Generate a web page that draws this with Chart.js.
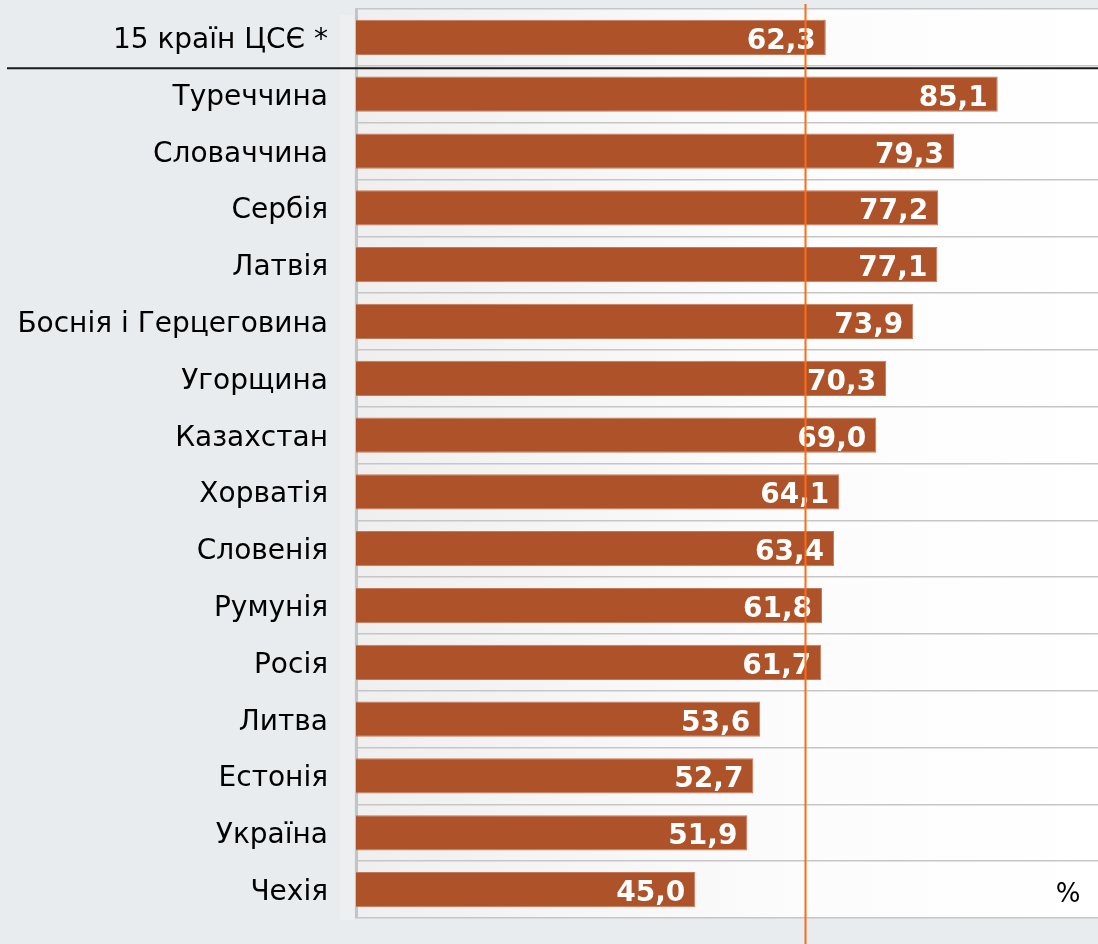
<!DOCTYPE html>
<html><head><meta charset="utf-8">
<script src="https://cdn.jsdelivr.net/npm/chart.js@4"></script>
<style>html,body{margin:0;padding:0;background:#e9ecee;overflow:hidden;} canvas{display:block;}</style>
</head><body>
<canvas id="c" width="1098" height="944"></canvas>
<script>
const categories = ['15 країн ЦСЄ *','Туреччина','Словаччина','Сербія','Латвія','Боснія і Герцеговина','Угорщина','Казахстан','Хорватія','Словенія','Румунія','Росія','Литва','Естонія','Україна','Чехія'];
const values = [62.3,85.1,79.3,77.2,77.1,73.9,70.3,69.0,64.1,63.4,61.8,61.7,53.6,52.7,51.9,45.0];
const referenceValue = 59.6;
const unitLabel = '%';
const xMin = 0, xMax = 98.4;

function fmt(v){ return v.toFixed(1).replace('.', ','); }
const LABEL_FONT = '"DejaVu Sans", sans-serif';

const decor = {
  id: 'decor',
  beforeDraw(chart) {
    const {ctx, chartArea: a} = chart;
    ctx.save();
    ctx.fillStyle = '#e9ecee';
    ctx.fillRect(0, 0, chart.width, chart.height);
    ctx.fillStyle = '#edeff0';
    ctx.fillRect(a.left - 16, a.top + 6, 14, a.bottom - a.top - 4);
    const g = ctx.createLinearGradient(a.left, 0, a.right, 0);
    g.addColorStop(0, '#efefef');
    g.addColorStop(0.6, '#fcfcfc');
    g.addColorStop(1, '#ffffff');
    ctx.fillStyle = g;
    ctx.fillRect(a.left, a.top, a.right - a.left, a.bottom - a.top);
    ctx.restore();
  },
  afterDatasetsDraw(chart) {
    const {ctx, chartArea: a} = chart;
    const xs = chart.scales.x, ys = chart.scales.y;
    const meta = chart.getDatasetMeta(0);
    ctx.save();
    // category labels
    ctx.font = '28px ' + LABEL_FONT;
    ctx.fillStyle = '#000';
    ctx.textAlign = 'right';
    ctx.textBaseline = 'alphabetic';
    categories.forEach((c, i) => {
      ctx.fillText(c, a.left - 28, ys.getPixelForValue(i) + 10.5);
    });
    // value labels
    ctx.font = 'bold 28px "DejaVu Sans"';
    ctx.fillStyle = '#ffffff';
    meta.data.forEach((bar, i) => {
      ctx.fillText(fmt(values[i]), bar.x - 10, bar.y + 11.5);
    });
    // separator line below first row
    const sepY = (ys.getPixelForValue(0) + ys.getPixelForValue(1)) / 2 + 2.5;
    ctx.strokeStyle = '#1a1a1a';
    ctx.lineWidth = 2;
    ctx.beginPath();
    ctx.moveTo(7, sepY);
    ctx.lineTo(chart.width, sepY);
    ctx.stroke();
    // reference line
    const rx = Math.round(xs.getPixelForValue(referenceValue)) + 0.5;
    ctx.strokeStyle = '#ff6a13';
    ctx.lineWidth = 2;
    ctx.beginPath();
    ctx.moveTo(rx, 4);
    ctx.lineTo(rx, chart.height);
    ctx.stroke();
    // unit label
    ctx.font = '26px ' + LABEL_FONT;
    ctx.fillStyle = '#000';
    ctx.textAlign = 'center';
    ctx.fillText(unitLabel, a.right - 30, ys.getPixelForValue(categories.length - 1) + 12);
    ctx.restore();
  }
};

new Chart(document.getElementById('c'), {
  type: 'bar',
  data: {
    labels: categories,
    datasets: [{
      data: values,
      backgroundColor: '#ae5229',
      borderColor: '#c47a58',
      borderWidth: 1,
      borderSkipped: 'start',
      barPercentage: 0.62,
      categoryPercentage: 1.0
    }]
  },
  options: {
    indexAxis: 'y',
    responsive: false,
    devicePixelRatio: 1,
    animation: false,
    layout: { padding: { top: 9, bottom: 26, left: 0, right: 0 } },
    plugins: { legend: { display: false }, tooltip: { enabled: false } },
    scales: {
      x: { display: false, min: xMin, max: xMax },
      y: {
        afterFit(scale) { scale.width = 356; },
        grid: { color: '#c6c6c6', lineWidth: 1.5, offset: true, drawTicks: false },
        border: { display: true, color: '#c4c4c4', width: 3 },
        ticks: { display: false }
      }
    }
  },
  plugins: [decor]
});
</script>
</body></html>
